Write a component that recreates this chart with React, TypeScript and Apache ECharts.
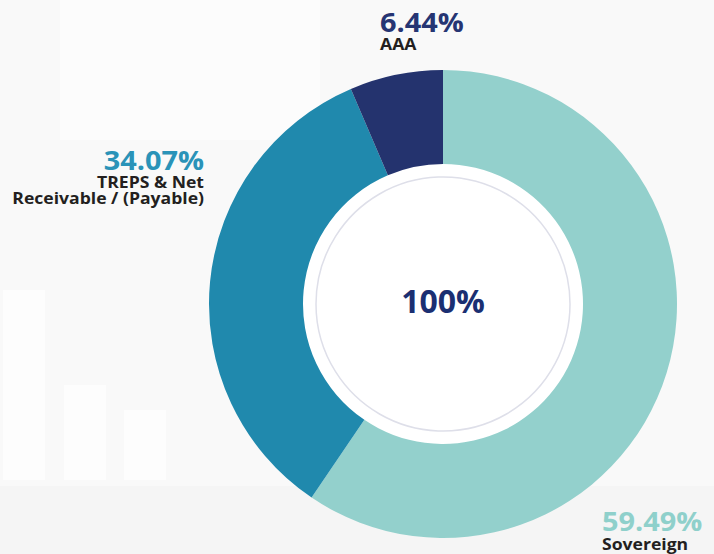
import React, { useEffect, useRef } from "react";
import * as echarts from "echarts";

const categories = ["Sovereign", "TREPS & Net Receivable / (Payable)", "AAA"];
const labelLines = [["Sovereign"], ["TREPS & Net", "Receivable / (Payable)"], ["AAA"]];
const values = [59.49, 34.07, 6.44];
const totalLabel = "100%";

export default function App() {
  const ref = useRef<HTMLDivElement>(null);
  useEffect(() => {
    document.body.style.margin = "0";
    const chart = echarts.init(ref.current!, null, { renderer: "svg" });
    const colors = ["#93d0cc", "#2089ad", "#24336e"];
    const pctColors = ["#8fd0cb", "#2a93b8", "#263573"];
    const cx = 443, cy = 304;
    const anchors = [
      { x: 602, pctY: 520, nameY: 543.5, align: "left" },
      { x: 204, pctY: 159.5, nameY: 181.5, align: "right" },
      { x: 380, pctY: 21.5, nameY: 44, align: "left" },
    ];
    const labelEls: any[] = [];
    values.forEach((v, i) => {
      const a = anchors[i];
      labelEls.push({
        type: "text", x: a.x, y: a.pctY, z: 100, scaleX: 1.07,
        style: {
          text: v.toFixed(2) + "%", fill: pctColors[i], align: a.align, verticalAlign: "middle",
          font: "bold 27px 'Open Sans'", lineHeight: 20,
        },
      });
      labelLines[i].forEach((ln, j) => {
        labelEls.push({
          type: "text", x: a.x, y: a.nameY + j * 16.2, z: 100, scaleX: 1.1,
          style: {
            text: ln, fill: "#231f20", align: a.align, verticalAlign: "middle",
            font: "bold 16px 'Open Sans'", lineHeight: 13,
          },
        });
      });
    });
    chart.setOption({
      animation: false,
      backgroundColor: "#f9f9f9",
      graphic: [
        { type: "rect", z: 0, shape: { x: 0, y: 486, width: 714, height: 68 }, style: { fill: "#f5f5f5" } },
        { type: "rect", z: 0, shape: { x: 3, y: 290, width: 42, height: 190 }, style: { fill: "#fdfdfd" } },
        { type: "rect", z: 0, shape: { x: 64, y: 385, width: 42, height: 95 }, style: { fill: "#fdfdfd" } },
        { type: "rect", z: 0, shape: { x: 124, y: 410, width: 42, height: 70 }, style: { fill: "#fdfdfd" } },
        { type: "rect", z: 0, shape: { x: 60, y: 0, width: 260, height: 140 }, style: { fill: "#fcfcfc" } },
        { type: "circle", z: 0, shape: { cx, cy, r: 141 }, style: { fill: "#ffffff" } },
        { type: "circle", z: 0, shape: { cx, cy, r: 127 }, style: { fill: "none", stroke: "#dedfe9", lineWidth: 1.5 } },
        {
          type: "text", x: cx, y: 300, z: 100,
          style: { text: totalLabel, fill: "#1b2f72", align: "center", verticalAlign: "middle", font: "bold 32px 'Open Sans'" },
        },
        ...labelEls,
      ],
      series: [
        {
          type: "pie",
          center: [cx, cy],
          radius: [140, 234],
          startAngle: 90,
          clockwise: true,
          label: { show: false },
          labelLine: { show: false },
          silent: true,
          itemStyle: { borderWidth: 0 },
          data: categories.map((c, i) => ({ name: c, value: values[i], itemStyle: { color: colors[i] } })),
        },
      ],
    });
    return () => chart.dispose();
  }, []);
  return <div ref={ref} style={{ width: 714, height: 554 }} />;
}
